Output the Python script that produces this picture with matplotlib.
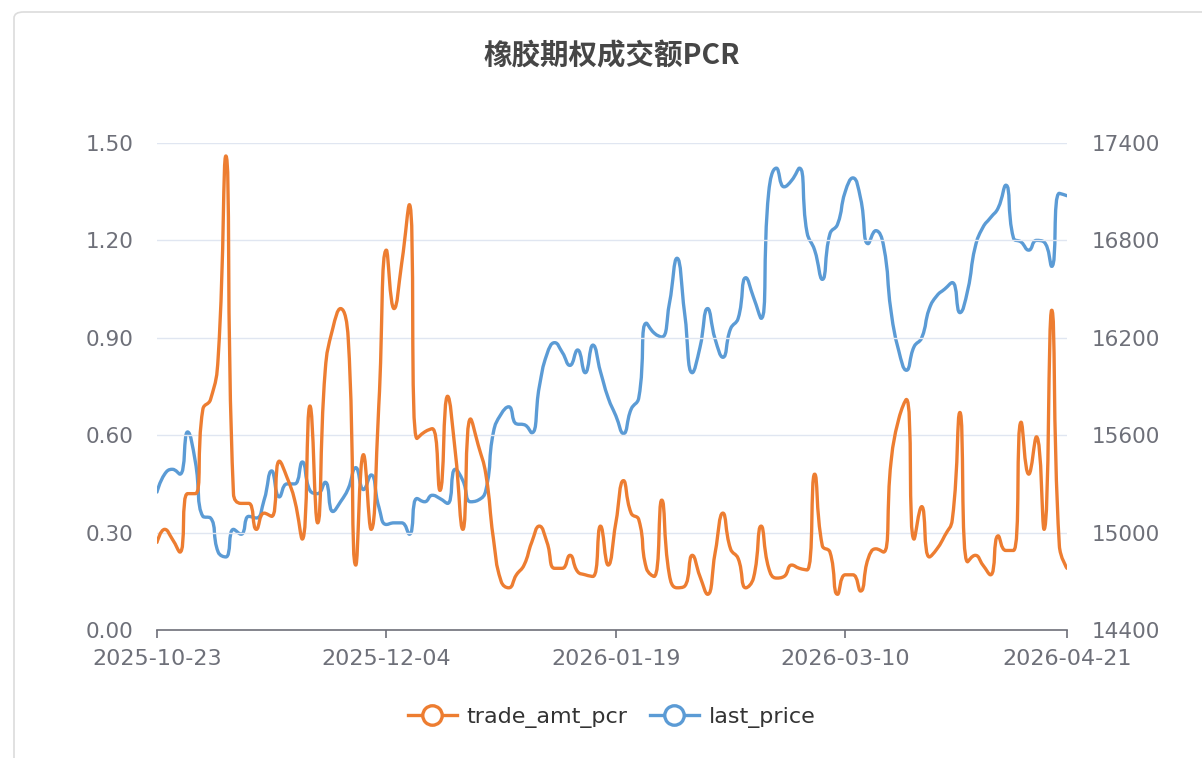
#!/usr/bin/env python
# coding: utf-8

import numpy as np
import pandas as pd
import matplotlib
matplotlib.use("Agg")
import matplotlib.pyplot as plt
from matplotlib.path import Path
from matplotlib.patches import PathPatch, FancyBboxPatch
from matplotlib.lines import Line2D

plt.rcParams['font.family'] = ['DejaVu Sans', 'Noto Sans CJK SC']

# ------------------------------------------------------------------
# Data
# ------------------------------------------------------------------
title = "橡胶期权成交额PCR"
start_date = "2025-10-23"
end_date = "2026-04-21"
holidays = ["2026-01-01", "2026-01-02", "2026-02-16", "2026-02-17", "2026-02-18",
            "2026-02-19", "2026-02-20", "2026-02-23", "2026-04-06"]
dates = [d.strftime("%Y-%m-%d") for d in pd.bdate_range(start_date, end_date)
         if d.strftime("%Y-%m-%d") not in holidays]

trade_amt_pcr = [
    0.27, 0.31, 0.28, 0.24, 0.42, 0.42, 0.68, 0.71, 0.84, 1.46,
    0.42, 0.39, 0.39, 0.31, 0.36, 0.35, 0.52, 0.47, 0.40, 0.28,
    0.69, 0.33, 0.80, 0.93, 0.99, 0.90, 0.20, 0.54, 0.31, 0.69,
    1.17, 0.99, 1.13, 1.31, 0.59, 0.61, 0.62, 0.43, 0.72, 0.55,
    0.31, 0.65, 0.57, 0.48, 0.28, 0.15, 0.13, 0.17, 0.20, 0.27,
    0.32, 0.27, 0.19, 0.19, 0.23, 0.18, 0.17, 0.165, 0.32, 0.20,
    0.33, 0.46, 0.36, 0.34, 0.19, 0.165, 0.40, 0.17, 0.13, 0.135,
    0.23, 0.165, 0.11, 0.24, 0.36, 0.25, 0.22, 0.13, 0.16, 0.32,
    0.19, 0.16, 0.165, 0.20, 0.19, 0.185, 0.48, 0.26, 0.24, 0.11,
    0.17, 0.17, 0.12, 0.22, 0.25, 0.24, 0.52, 0.65, 0.71, 0.28,
    0.38, 0.225, 0.25, 0.29, 0.34, 0.67, 0.21, 0.23, 0.20, 0.17,
    0.29, 0.245, 0.245, 0.64, 0.48, 0.595, 0.31, 0.985, 0.26, 0.19,
]

last_price = [
    15250, 15360, 15390, 15360, 15620, 15440, 15100, 15090, 14880, 14850,
    15020, 14990, 15100, 15090, 15200, 15380, 15220, 15300, 15300, 15435,
    15260, 15240, 15310, 15130, 15190, 15270, 15400, 15265, 15355, 15160,
    15050, 15060, 15060, 14990, 15210, 15190, 15230, 15210, 15180, 15390,
    15320, 15190, 15200, 15260, 15620, 15730, 15775, 15670, 15665, 15615,
    15900, 16100, 16170, 16110, 16030, 16125, 15985, 16155, 15990, 15830,
    15720, 15610, 15760, 15830, 16290, 16230, 16205, 16410, 16690, 16350,
    15985, 16140, 16380, 16190, 16080, 16255, 16320, 16570, 16450, 16320,
    17100, 17245, 17130, 17170, 17245, 16850, 16740, 16560, 16840, 16900,
    17100, 17185, 17060, 16780, 16860, 16770, 16360, 16120, 16000, 16145,
    16200, 16380, 16460, 16500, 16540, 16355, 16490, 16760, 16880, 16940,
    17000, 17140, 16815, 16790, 16740, 16800, 16790, 16640, 17090, 17075,
]

left_ticks = [0.0, 0.3, 0.6, 0.9, 1.2, 1.5]
right_ticks = [14400, 15000, 15600, 16200, 16800, 17400]
label_step = 30

ORANGE = "#ED7D31"
BLUE = "#5B9BD5"
LABEL = "#6E7079"


def echarts_smooth(px, py, smooth=0.5):
    """Cubic bezier control points in the style of ECharts smooth lines."""
    n = len(px)
    cin = [(px[i], py[i]) for i in range(n)]
    cout = [(px[i], py[i]) for i in range(n)]
    for i in range(1, n - 1):
        x, y = px[i], py[i]
        x0, y0 = px[i - 1], py[i - 1]
        x1, y1 = px[i + 1], py[i + 1]
        vx, vy = x1 - x0, y1 - y0
        lp = np.hypot(x - x0, y - y0)
        ln = np.hypot(x1 - x, y1 - y)
        if lp == 0 or ln == 0:
            continue
        r = ln / (ln + lp)
        cx0 = np.clip(x + vx * smooth * r, min(x1, x), max(x1, x))
        cy0 = np.clip(y + vy * smooth * r, min(y1, y), max(y1, y))
        vx, vy = cx0 - x, cy0 - y
        cx1 = np.clip(x - vx * lp / ln, min(x0, x), max(x0, x))
        cy1 = np.clip(y - vy * lp / ln, min(y0, y), max(y0, y))
        vx, vy = x - cx1, y - cy1
        cx0 = x + vx * ln / lp
        cy0 = y + vy * ln / lp
        cin[i] = (cx1, cy1)
        cout[i] = (cx0, cy0)
    verts = [(px[0], py[0])]
    codes = [Path.MOVETO]
    for i in range(n - 1):
        verts += [cout[i], cin[i + 1], (px[i + 1], py[i + 1])]
        codes += [Path.CURVE4] * 3
    return np.array(verts), codes


def smooth_line(ax, x, y, color):
    disp = ax.transData.transform(np.column_stack([x, y]))
    verts, codes = echarts_smooth(disp[:, 0], disp[:, 1])
    data_verts = ax.transData.inverted().transform(verts)
    patch = PathPatch(Path(data_verts, codes), fill=False, edgecolor=color,
                      linewidth=2.4, capstyle="round", joinstyle="round", zorder=3)
    ax.add_patch(patch)


# ------------------------------------------------------------------
# Figure
# ------------------------------------------------------------------
fig = plt.figure(figsize=(12.02, 7.58), dpi=100)
fig.patch.set_facecolor("white")
card = FancyBboxPatch((14 / 1202, -0.05), 1.1, 1 - 12 / 758 + 0.05,
                      boxstyle="round,pad=0,rounding_size=0.008",
                      transform=fig.transFigure, facecolor="white",
                      edgecolor="#DCDCDC", linewidth=1.2, zorder=0)
fig.patches.append(card)

ax = fig.add_axes([157 / 1202, 128 / 758, 910 / 1202, 487 / 758])
ax2 = ax.twinx()
ax.set_zorder(2)
ax2.set_zorder(1)
ax.patch.set_visible(False)

xs = np.arange(len(dates))
ax.set_xlim(0, len(dates) - 1)
ax.set_ylim(0, 1.5)
ax2.set_ylim(14400, 17400)

# grid lines
for t in left_ticks[1:]:
    ax.axhline(t, color="#E0E6F1", linewidth=1.0, zorder=0)

smooth_line(ax2, xs, last_price, BLUE)
smooth_line(ax, xs, trade_amt_pcr, ORANGE)

# axes styling
for a in (ax, ax2):
    for s in ("top", "left", "right"):
        a.spines[s].set_visible(False)
ax.spines["bottom"].set_color(LABEL)
ax.spines["bottom"].set_linewidth(1.2)
ax2.spines["bottom"].set_visible(False)

ax.set_yticks(left_ticks)
ax.set_yticklabels([f"{t:.2f}" for t in left_ticks])
ax2.set_yticks(right_ticks)
ax2.set_yticklabels([str(t) for t in right_ticks])
ax.tick_params(axis="y", length=0, pad=17, labelsize=15.5, labelcolor=LABEL)
ax2.tick_params(axis="y", length=0, pad=18, labelsize=15.5, labelcolor=LABEL)

tick_idx = list(range(0, len(dates), label_step))
if tick_idx[-1] != len(dates) - 1:
    tick_idx.append(len(dates) - 1)
ax.set_xticks(tick_idx)
ax.set_xticklabels([dates[i] for i in tick_idx])
ax.tick_params(axis="x", length=6, width=1.2, color=LABEL, pad=8,
               labelsize=16, labelcolor=LABEL)

fig.text(0.509, 1 - 56 / 758, title, ha="center", va="center",
         fontsize=20.5, fontweight="bold", color="#464646",
         family=["Noto Sans CJK SC", "DejaVu Sans"])

handles = [
    Line2D([], [], color=ORANGE, linewidth=2.4, marker="o", markersize=14,
           markerfacecolor="white", markeredgewidth=2.4),
    Line2D([], [], color=BLUE, linewidth=2.4, marker="o", markersize=14,
           markerfacecolor="white", markeredgewidth=2.4),
]
fig.legend(handles, ["trade_amt_pcr", "last_price"], loc="center",
           bbox_to_anchor=(0.509, 1 - 717 / 758), ncol=2, frameon=False,
           fontsize=16, handlelength=2.2, handletextpad=0.45,
           columnspacing=1.0, labelcolor="#333333")

fig.savefig("out.png", dpi=100)
